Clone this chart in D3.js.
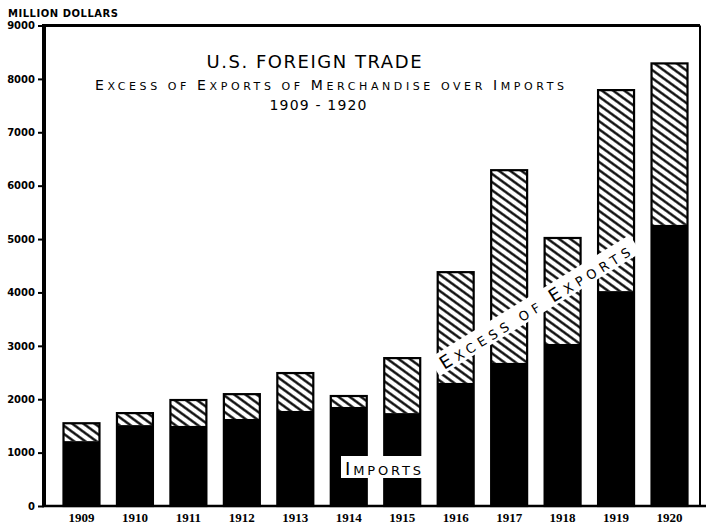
<!DOCTYPE html>
<html><head><meta charset="utf-8">
<script src="https://cdn.jsdelivr.net/npm/d3@7/dist/d3.min.js"></script>
<style>body{margin:0;background:#fff}svg{display:block}</style></head>
<body><svg id="c" width="706" height="527"></svg>
<script>
const years = ["1909","1910","1911","1912","1913","1914","1915","1916","1917","1918","1919","1920"];
const exportsTotal = [1550, 1740, 1985, 2095, 2490, 2060, 2770, 4380, 6290, 5020, 7790, 8290];
const imports = [1215, 1515, 1500, 1630, 1780, 1855, 1740, 2305, 2680, 3035, 4025, 5265];
const yTicks = [0,1000,2000,3000,4000,5000,6000,7000,8000,9000];
const unitLabel = "MILLION DOLLARS";
const title1 = "U.S. FOREIGN TRADE";
const title2 = [["E",1],["XCESS",0],[" ",0],["OF",0],[" ",0],["E",1],["XPORTS",0],[" ",0],["OF",0],[" ",0],["M",1],["ERCHANDISE",0],["  ",0],["OVER",0],[" ",0],["I",1],["MPORTS",0]];
const title3 = "1909 - 1920";
const excessLabel = [["E",1],["XCESS",0],["  ",0],["OF",0],["  ",0],["E",1],["XPORTS",0]];
const importsLabel = [["I",1],["MPORTS",0]];

const svg = d3.select("#c");
const font = "'DejaVu Sans', sans-serif";
const y = d3.scaleLinear().domain([0, 9000]).range([506, 25.5]);
const x = d3.scaleBand().domain(years).range([45, 706]).paddingInner(0.327).paddingOuter(0.346);

const defs = svg.append("defs");
const pat = defs.append("pattern").attr("id","hatch").attr("patternUnits","userSpaceOnUse")
  .attr("width",8).attr("height",6.6).attr("patternTransform","rotate(36)");
pat.append("rect").attr("width",8).attr("height",6.6).attr("fill","#fff");
pat.append("line").attr("x1",-1).attr("x2",9).attr("y1",3.3).attr("y2",3.3)
  .attr("stroke","#000").attr("stroke-width",2.3);

// frame
svg.append("line").attr("x1",43).attr("x2",700).attr("y1",25.5).attr("y2",25.5).attr("stroke","#000").attr("stroke-width",3);
svg.append("line").attr("x1",700).attr("x2",700).attr("y1",25.5).attr("y2",506).attr("stroke","#000").attr("stroke-width",2);

// bars
const g = svg.append("g");
years.forEach((yr,i) => {
  const bx = x(yr), bw = x.bandwidth();
  g.append("rect").attr("x",bx).attr("width",bw).attr("y",y(exportsTotal[i])).attr("height",y(imports[i]) - y(exportsTotal[i]))
    .attr("fill","url(#hatch)");
  g.append("rect").attr("x",bx).attr("width",bw).attr("y",y(imports[i])).attr("height",y(0) - y(imports[i]))
    .attr("fill","#000");
  g.append("rect").attr("x",bx).attr("width",bw).attr("y",y(exportsTotal[i])).attr("height",y(0) - y(exportsTotal[i]))
    .attr("fill","none").attr("stroke","#000").attr("stroke-width",2.2);
});

// axes
const yAxis = svg.append("g").attr("transform","translate(44,0)")
  .call(d3.axisLeft(y).tickValues(yTicks).tickSize(6).tickPadding(3).tickFormat(d3.format("d")));
yAxis.select(".domain").attr("stroke-width",4).attr("d","M0,24V507");
yAxis.selectAll(".tick line").attr("stroke-width",2);
yAxis.selectAll(".tick text").attr("font-family",font).attr("font-weight","bold").attr("font-size",10).attr("fill","#000");

const xAxis = svg.append("g").attr("transform","translate(0,506)")
  .call(d3.axisBottom(x).tickSize(0).tickPadding(7));
xAxis.select(".domain").attr("d","M42,0H706").attr("stroke-width",2.5);
xAxis.selectAll(".tick text").attr("font-family","'Liberation Serif', serif").attr("font-weight","bold").attr("font-size",13).attr("fill","#000");

// unit label
svg.append("text").attr("x",8).attr("y",17).attr("font-family",font).attr("font-weight","bold")
  .attr("font-size",10).attr("textLength",110).text(unitLabel);

// title
svg.append("text").attr("x",314).attr("y",68).attr("text-anchor","middle").attr("font-family",font)
  .attr("font-size",18).attr("textLength",215).text(title1);
const t2 = svg.append("text").attr("x",330).attr("y",90).attr("text-anchor","middle").attr("font-family",font)
  .attr("textLength",470).attr("letter-spacing",1);
title2.forEach(([s,big]) => t2.append("tspan").attr("font-size", big?14:11).text(s));
svg.append("text").attr("x",318).attr("y",110).attr("text-anchor","middle").attr("font-family",font)
  .attr("font-size",14).attr("textLength",97).text(title3);

// excess label
const ex = svg.append("g").attr("transform","translate(535,306) rotate(-31.6)");
ex.append("rect").attr("x",-118).attr("y",-11).attr("width",236).attr("height",21).attr("fill","#fff");
const et = ex.append("text").attr("x",0).attr("y",7).attr("text-anchor","middle").attr("font-family",font)
  .attr("textLength",222).attr("letter-spacing",2);
excessLabel.forEach(([s,big]) => et.append("tspan").attr("font-size", big?18:13).text(s));

// imports label
svg.append("rect").attr("x",341).attr("y",456).attr("width",86).attr("height",22).attr("fill","#fff");
const it = svg.append("text").attr("x",384).attr("y",475).attr("text-anchor","middle").attr("font-family",font)
  .attr("textLength",78).attr("letter-spacing",2);
importsLabel.forEach(([s,big]) => it.append("tspan").attr("font-size", big?18:13).text(s));
</script></body></html>
